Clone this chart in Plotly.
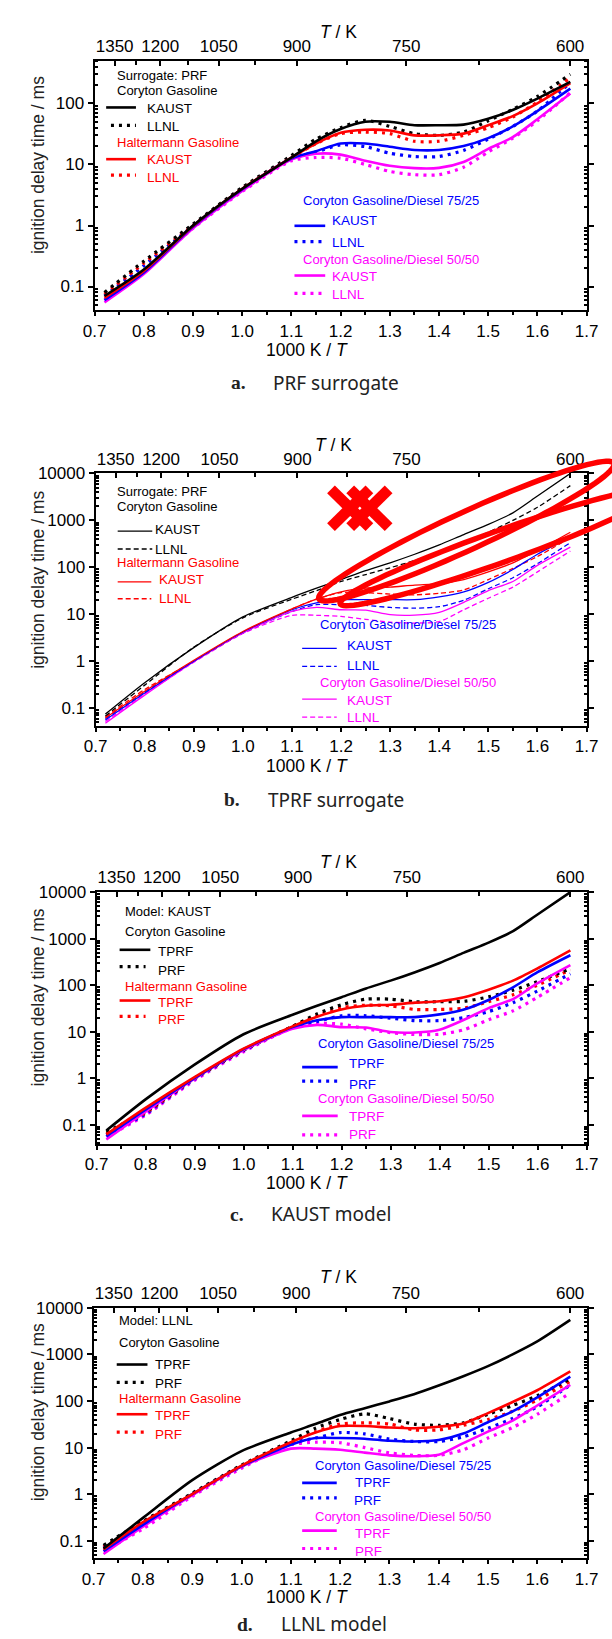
import numpy as np
import plotly.graph_objects as go

W, H = 612, 1639

# Inverse temperature grid, 1000 K / T
X = [0.72, 0.80, 0.90, 1.00, 1.10, 1.15, 1.20, 1.25, 1.30, 1.35, 1.40, 1.45, 1.50, 1.55, 1.60, 1.667]

# Ignition delay times / ms -- PRF surrogate, KAUST mechanism
prf_kaust_coryton    = [0.07, 0.19, 1.0, 4.0, 13, 24, 38, 50, 50, 44, 44, 45, 56, 78, 120, 225]
prf_kaust_haltermann = [0.065, 0.18, 0.98, 4.0, 13, 22, 33, 37, 36, 30, 30, 32, 44, 62, 100, 215]
prf_kaust_cgd75      = [0.06, 0.17, 0.95, 3.9, 12.5, 16.5, 22, 22, 19.5, 17.3, 17.3, 20, 27, 42, 75, 175]
prf_kaust_cgd50      = [0.055, 0.16, 0.9, 3.7, 12, 15, 14.5, 11.5, 9.5, 8.7, 8.8, 11, 18, 28, 55, 145]

# PRF surrogate, LLNL mechanism
prf_llnl_coryton    = [0.08, 0.26, 1.05, 4.2, 14, 26, 40, 53, 42, 32, 30, 34, 52, 80, 130, 300]
prf_llnl_haltermann = [0.075, 0.24, 1.0, 4.0, 13, 22, 32, 34, 32, 24, 24, 30, 40, 60, 105, 265]
prf_llnl_cgd75      = [0.07, 0.22, 0.98, 3.9, 12.5, 16, 21, 19.6, 15.3, 13.5, 13.5, 17, 26, 42, 75, 220]
prf_llnl_cgd50      = [0.06, 0.18, 0.9, 3.6, 11.5, 13, 12.7, 10, 7.7, 6.8, 6.8, 9, 16, 27, 52, 150]

# TPRF surrogate, KAUST mechanism
tprf_kaust_coryton    = [0.075, 0.35, 1.95, 8.8, 23, 36, 55, 85, 125, 190, 300, 500, 820, 1450, 3300, 10000]
tprf_kaust_haltermann = [0.062, 0.23, 1.05, 4.3, 13, 21, 30, 36, 38, 42, 45, 55, 80, 125, 230, 560]
tprf_kaust_cgd75      = [0.056, 0.21, 1.0, 4.2, 12.5, 17.5, 20.5, 20.5, 20.5, 20.5, 23.5, 30, 48, 90, 190, 440]
tprf_kaust_cgd50      = [0.048, 0.19, 0.98, 4.0, 11.5, 14, 12.5, 12.3, 9.8, 9.6, 11, 18, 32, 50, 110, 270]

# TPRF surrogate, LLNL mechanism
tprf_llnl_coryton    = [0.068, 0.31, 2.0, 8.4, 21, 32, 50, 70, 98, 140, 215, 340, 560, 1000, 1900, 5500]
tprf_llnl_haltermann = [0.065, 0.25, 1.0, 4.1, 13, 21, 29, 29, 27, 26, 28, 33, 55, 95, 170, 430]
tprf_llnl_cgd75      = [0.06, 0.22, 1.0, 4.0, 11.5, 16, 16, 15.5, 14, 13.5, 14.5, 20, 35, 60, 120, 335]
tprf_llnl_cgd50      = [0.052, 0.2, 0.95, 3.9, 9.5, 9.5, 9.0, 7.8, 6.8, 6.5, 7.0, 12.5, 22, 38, 80, 222]

# Axis ticks
X_TICKS = [0.7, 0.8, 0.9, 1.0, 1.1, 1.2, 1.3, 1.4, 1.5, 1.6, 1.7]
T_LABELS = [1350, 1200, 1050, 900, 750, 600]
T_MINOR = [1275, 1125, 975, 825, 675]

BLACK, RED, BLUE, MAGENTA = "#000000", "#ff0000", "#0000ff", "#ff00ff"
FONT = "Liberation Sans, Arial, sans-serif"

FUELS = ["coryton", "haltermann", "cgd75", "cgd50"]
FUEL_COLORS = {"coryton": BLACK, "haltermann": RED, "cgd75": BLUE, "cgd50": MAGENTA}
SERIES = {
    ("prf", "kaust"): [prf_kaust_coryton, prf_kaust_haltermann, prf_kaust_cgd75, prf_kaust_cgd50],
    ("prf", "llnl"): [prf_llnl_coryton, prf_llnl_haltermann, prf_llnl_cgd75, prf_llnl_cgd50],
    ("tprf", "kaust"): [tprf_kaust_coryton, tprf_kaust_haltermann, tprf_kaust_cgd75, tprf_kaust_cgd50],
    ("tprf", "llnl"): [tprf_llnl_coryton, tprf_llnl_haltermann, tprf_llnl_cgd75, tprf_llnl_cgd50],
}

THICK = dict(solid=dict(width=2.6, dash="solid"), broken=dict(width=3.2, dash="3px,5px"))
THIN = dict(solid=dict(width=1.3, dash="solid"), broken=dict(width=1.3, dash="5px,3px"))

# panel layout in pixels
PANELS = [
    dict(top=52, bottom=303, left=86, right=598, yrange=[-1.39, 2.70], yticks=[0.1, 1, 10, 100],
         solid=("prf", "kaust"), broken=("prf", "llnl"), style=THICK,
         caption=("a.", "PRF surrogate", 236, 270, 376), ttitle=(340, 23), xtitle_y=343, ytitle_y=157,
         headers=[("Surrogate: PRF", BLACK, 107, 67), ("Coryton Gasoline", BLACK, 107, 82),
                  ("Haltermann Gasoline", RED, 107, 134),
                  ("Coryton Gasoline/Diesel 75/25", BLUE, 301, 193),
                  ("Coryton Gasoline/Diesel 50/50", MAGENTA, 301, 252)],
         items=[(BLACK, "solid", 98, 129, 99, "KAUST", 138, 100), (BLACK, "broken", 103, 129, 117, "LLNL", 138, 118),
                (RED, "solid", 98, 129, 151, "KAUST", 138, 151), (RED, "broken", 103, 129, 167, "LLNL", 138, 169),
                (BLUE, "solid", 294, 326, 218, "KAUST", 331, 213), (BLUE, "broken", 294, 326, 234, "LLNL", 331, 235),
                (MAGENTA, "solid", 294, 326, 268, "KAUST", 331, 269), (MAGENTA, "broken", 294, 326, 286, "LLNL", 331, 287)]),
    dict(top=467, bottom=721, left=87, right=598, yrange=[-1.38, 4.0], yticks=[0.1, 1, 10, 100, 1000, 10000],
         solid=("tprf", "kaust"), broken=("tprf", "llnl"), style=THIN,
         caption=("b.", "TPRF surrogate", 229, 264, 795), ttitle=(335, 438), xtitle_y=761, ytitle_y=574,
         headers=[("Surrogate: PRF", BLACK, 107, 485), ("Coryton Gasoline", BLACK, 107, 500),
                  ("Haltermann Gasoline", RED, 107, 557),
                  ("Coryton Gasoline/Diesel 75/25", BLUE, 318, 619),
                  ("Coryton Gasoline/Diesel 50/50", MAGENTA, 318, 677)],
         items=[(BLACK, "solid", 110, 146, 525, "KAUST", 147, 523), (BLACK, "broken", 110, 146, 543, "LLNL", 147, 543),
                (RED, "solid", 110, 145, 576, "KAUST", 151, 574), (RED, "broken", 110, 145, 593, "LLNL", 151, 593),
                (BLUE, "solid", 302, 338, 643, "KAUST", 347, 640), (BLUE, "broken", 302, 338, 661, "LLNL", 347, 660),
                (MAGENTA, "solid", 302, 338, 694, "KAUST", 347, 695), (MAGENTA, "broken", 302, 338, 712, "LLNL", 347, 712)]),
    dict(top=888, bottom=1141, left=88, right=598, yrange=[-1.41, 4.0], yticks=[0.1, 1, 10, 100, 1000, 10000],
         solid=("tprf", "kaust"), broken=("prf", "kaust"), style=THICK,
         caption=("c.", "KAUST model", 234, 268, 1212), ttitle=(340, 858), xtitle_y=1180, ytitle_y=994,
         headers=[("Model: KAUST", BLACK, 116, 907), ("Coryton Gasoline", BLACK, 116, 928),
                  ("Haltermann Gasoline", RED, 116, 983),
                  ("Coryton Gasoline/Diesel 75/25", BLUE, 316, 1040),
                  ("Coryton Gasoline/Diesel 50/50", MAGENTA, 316, 1096)],
         items=[(BLACK, "solid", 112, 144, 946, "TPRF", 150, 948), (BLACK, "broken", 112, 139, 963, "PRF", 150, 967),
                (RED, "solid", 112, 144, 997, "TPRF", 150, 999), (RED, "broken", 112, 139, 1013, "PRF", 150, 1016),
                (BLUE, "solid", 302, 339, 1064, "TPRF", 349, 1060), (BLUE, "broken", 302, 339, 1078, "PRF", 349, 1081),
                (MAGENTA, "solid", 302, 339, 1113, "TPRF", 349, 1114), (MAGENTA, "broken", 302, 339, 1132, "PRF", 349, 1132)]),
    dict(top=1306, bottom=1558, left=85, right=598, yrange=[-1.38, 4.0], yticks=[0.1, 1, 10, 100, 1000, 10000],
         solid=("tprf", "llnl"), broken=("prf", "llnl"), style=THICK,
         caption=("d.", "LLNL model", 243, 278, 1624), ttitle=(340, 1275), xtitle_y=1597, ytitle_y=1411,
         headers=[("Model: LLNL", BLACK, 109, 1319), ("Coryton Gasoline", BLACK, 109, 1341),
                  ("Haltermann Gasoline", RED, 109, 1397),
                  ("Coryton Gasoline/Diesel 75/25", BLUE, 313, 1465),
                  ("Coryton Gasoline/Diesel 50/50", MAGENTA, 313, 1516)],
         items=[(BLACK, "solid", 109, 141, 1363, "TPRF", 147, 1363), (BLACK, "broken", 109, 141, 1381, "PRF", 147, 1382),
                (RED, "solid", 109, 141, 1413, "TPRF", 147, 1414), (RED, "broken", 109, 141, 1431, "PRF", 147, 1433),
                (BLUE, "solid", 302, 338, 1482, "TPRF", 355, 1482), (BLUE, "broken", 302, 338, 1497, "PRF", 354, 1500),
                (MAGENTA, "solid", 302, 338, 1530, "TPRF", 355, 1533), (MAGENTA, "broken", 302, 338, 1548, "PRF", 355, 1551)]),
]


def px(x):
    return x / W


def py(y):
    return 1 - y / H


def fmt_tick(v):
    return "0.1" if v < 1 else str(int(v))


def note(x, y, text, size, color="black", family=FONT, xanchor="center", angle=0):
    return dict(x=px(x), y=py(y), xref="paper", yref="paper", text=text, showarrow=False,
                xanchor=xanchor, yanchor="middle", textangle=angle,
                font=dict(family=family, size=size, color=color))


fig = go.Figure()
annotations, shapes = [], []
layout = {}

for i, p in enumerate(PANELS, start=1):
    xa, ya, xt = f"x{i}", f"y{i}", f"x{i + 4}"
    st = p["style"]
    for kind in ("broken", "solid"):
        for fuel, ys in reversed(list(zip(FUELS, SERIES[p[kind]]))):
            fig.add_trace(go.Scatter(
                x=X, y=ys, xaxis=xa, yaxis=ya, mode="lines", showlegend=False, hoverinfo="skip",
                line=dict(color=FUEL_COLORS[fuel], width=st[kind]["width"], dash=st[kind]["dash"],
                          shape="spline", smoothing=0.7)))
    # carrier trace for the temperature axis on top
    fig.add_trace(go.Scatter(x=X, y=SERIES[p["solid"]][0], xaxis=xt, yaxis=ya, mode="lines",
                             opacity=0, showlegend=False, hoverinfo="skip"))

    dom_x = [px(p["left"]), px(p["right"])]
    dom_y = [py(p["bottom"]), py(p["top"])]
    tickfont = dict(family=FONT, size=17, color="black")
    layout[f"xaxis{i}"] = dict(
        domain=dom_x, anchor=ya, range=[0.7, 1.7],
        tickmode="array", tickvals=X_TICKS, ticktext=[f"{v:.1f}" for v in X_TICKS], tickangle=0,
        ticks="outside", ticklen=4, tickwidth=1.5, tickcolor="black",
        showline=True, linewidth=2, linecolor="black", showgrid=False, zeroline=False,
        tickfont=tickfont,
        minor=dict(tickvals=[round(v + 0.05, 2) for v in X_TICKS[:-1]], ticks="outside", ticklen=3,
                   tickcolor="black"))
    layout[f"xaxis{i + 4}"] = dict(
        overlaying=xa, anchor=ya, side="top", domain=dom_x, range=[0.7, 1.7],
        tickmode="array", tickvals=[1000 / t for t in T_LABELS], ticktext=[str(t) for t in T_LABELS],
        tickangle=0, ticks="inside", ticklen=5, tickwidth=1.5, tickcolor="black",
        showline=True, linewidth=2, linecolor="black", showgrid=False, zeroline=False,
        tickfont=tickfont,
        minor=dict(tickvals=[1000 / t for t in T_MINOR], ticks="inside", ticklen=4, tickcolor="black"))
    lo, hi = p["yrange"]
    minor_vals = [k * 10.0 ** e for e in range(-2, 5) for k in range(2, 10)
                  if lo <= np.log10(k * 10.0 ** e) <= hi]
    layout[f"yaxis{i}"] = dict(
        domain=dom_y, anchor=xa, type="log", range=p["yrange"],
        tickmode="array", tickvals=p["yticks"], ticktext=[fmt_tick(v) for v in p["yticks"]],
        ticks="outside", ticklen=5, tickwidth=1.5, tickcolor="black", mirror="ticks",
        showline=True, linewidth=2, linecolor="black", showgrid=False, zeroline=False,
        tickfont=tickfont,
        minor=dict(tickvals=minor_vals, ticks="inside", ticklen=3, tickcolor="black"))

    # axis titles
    annotations.append(note(27, p["ytitle_y"], "ignition delay time / ms", 17.5, "#222", angle=-90))
    annotations.append(note(307, p["xtitle_y"], "1000 K / <i>T</i>", 17.5))
    tx, ty = p["ttitle"]
    annotations.append(note(tx, ty, "<i>T</i> / K", 17.5))

    # panel caption
    letter, words, lx, wx, cy = p["caption"]
    annotations.append(note(lx, cy, f"<b>{letter}</b>", 19.5, "#222", family="Liberation Serif, serif"))
    annotations.append(note(wx, cy, words, 19, "#222", family="Noto Sans, sans-serif", xanchor="left"))

    # in-plot legend
    for text, color, hx, hy in p["headers"]:
        annotations.append(note(hx, hy, text, 13, color, xanchor="left"))
    for color, kind, x0, x1, ly, label, lbx, lby in p["items"]:
        shapes.append(dict(type="line", xref="paper", yref="paper", x0=px(x0), x1=px(x1), y0=py(ly), y1=py(ly),
                           line=dict(color=color, width=st[kind]["width"], dash=st[kind]["dash"])))
        annotations.append(note(lbx, lby, label, 13.5, color, xanchor="left"))


def ellipse_path(cx, cy, a, b, angle_deg, n=90):
    th = np.radians(angle_deg)
    t = np.linspace(0, 2 * np.pi, n)
    ex = cx + a * np.cos(t) * np.cos(th) - b * np.sin(t) * np.sin(th)
    ey = cy - (a * np.cos(t) * np.sin(th) + b * np.sin(t) * np.cos(th))
    pts = [f"{px(u):.5f},{py(v):.5f}" for u, v in zip(ex, ey)]
    return "M " + " L ".join(pts) + " Z"


# red markup drawn over panel b
for cx, cy, a, b, ang in [(473, 525, 168, 19, 23.9), (507, 541, 175, 16, 19.0)]:
    shapes.append(dict(type="path", xref="paper", yref="paper", path=ellipse_path(cx, cy, a, b, ang),
                       line=dict(color=RED, width=5.5)))
for cx in (352, 372):
    for sgn in (1, -1):
        shapes.append(dict(type="line", xref="paper", yref="paper",
                           x0=px(cx - 20), x1=px(cx + 20), y0=py(502 - 19 * sgn), y1=py(502 + 19 * sgn),
                           line=dict(color=RED, width=11)))

fig.update_layout(
    width=W, height=H, autosize=False, margin=dict(l=0, r=0, t=0, b=0),
    paper_bgcolor="white", plot_bgcolor="white", showlegend=False,
    annotations=annotations, shapes=shapes, **layout)

fig.write_html("out.html")
